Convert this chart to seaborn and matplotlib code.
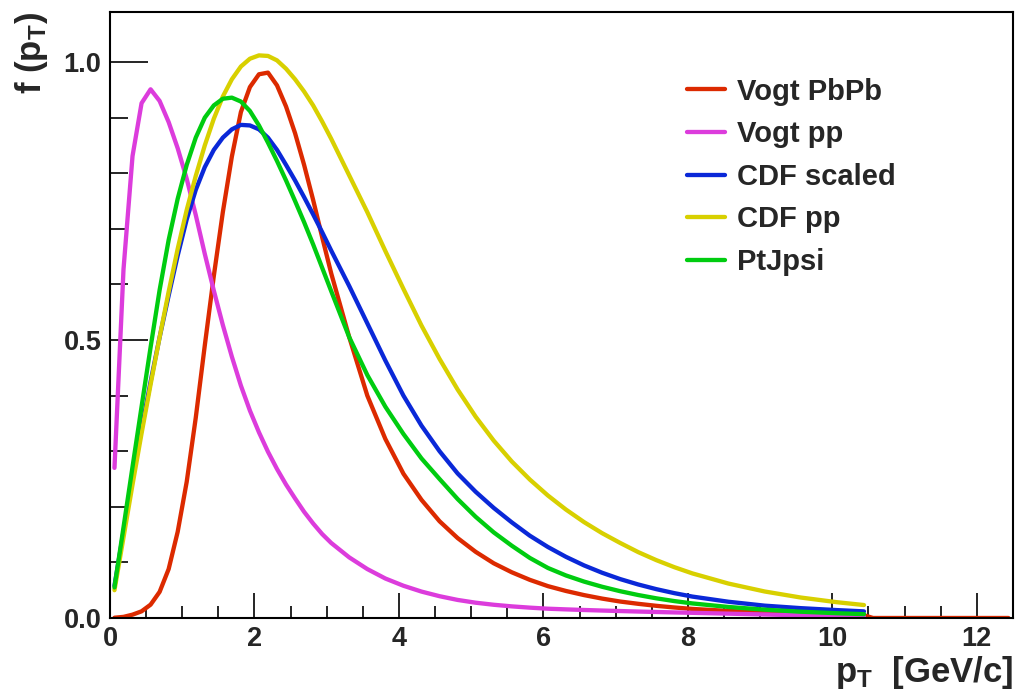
import numpy as np
import pandas as pd
import matplotlib
matplotlib.use("Agg")
import matplotlib.pyplot as plt
import seaborn as sns
from matplotlib.ticker import MultipleLocator, FormatStrFormatter
from matplotlib.lines import Line2D

# ---------------- data ----------------
pt = [0.0625, 0.1875, 0.3125, 0.4375, 0.5625, 0.6875, 0.8125, 0.9375,
      1.0625, 1.1875, 1.3125, 1.4375, 1.5625, 1.6875, 1.8125, 1.9375,
      2.0625, 2.1875, 2.3125, 2.4375, 2.5625, 2.6875, 2.8125, 2.9375,
      3.0625,
      3.3125, 3.5625, 3.8125, 4.0625, 4.3125, 4.5625, 4.8125, 5.0625,
      5.3125, 5.5625, 5.8125, 6.0625, 6.3125, 6.5625, 6.8125, 7.0625,
      7.3125, 7.5625, 7.8125,
      8.0625, 8.5625, 9.0625, 9.5625, 10.0625, 10.4375]
pt_tail = [10.5625, 11.0625, 11.5625, 12.0625, 12.4375]

vogt_pbpb = [0.0005, 0.002, 0.006, 0.012, 0.024, 0.047, 0.088, 0.155,
             0.245, 0.36, 0.49, 0.615, 0.73, 0.83, 0.91, 0.955,
             0.978, 0.981, 0.958, 0.92, 0.872, 0.815, 0.752, 0.685,
             0.62,
             0.505, 0.40, 0.322, 0.2595, 0.2125, 0.174, 0.1438, 0.119,
             0.0984, 0.0822, 0.0686, 0.0573, 0.0486, 0.0412, 0.0349, 0.0296,
             0.0255, 0.0219, 0.0189,
             0.0163, 0.0127, 0.0099, 0.0077, 0.006, 0.005]
vogt_pbpb_tail = [0.0, 0.0, 0.0, 0.0, 0.0]

vogt_pp = [0.27, 0.627, 0.831, 0.926, 0.951, 0.930, 0.892, 0.845,
           0.79, 0.725, 0.655, 0.589, 0.527, 0.47, 0.418, 0.373,
           0.334, 0.299, 0.268, 0.240, 0.215, 0.191, 0.170, 0.151,
           0.135,
           0.109, 0.088, 0.071, 0.058, 0.0475, 0.0392, 0.0325, 0.0275,
           0.0238, 0.0209, 0.0186, 0.0167, 0.0155, 0.0144, 0.0134, 0.0125,
           0.0116, 0.0108, 0.0100,
           0.0093, 0.0078, 0.0063, 0.0049, 0.0035, 0.0025]

cdf_scaled = [0.058, 0.155, 0.25, 0.34, 0.425, 0.505, 0.58, 0.652,
              0.717, 0.77, 0.811, 0.842, 0.864, 0.879, 0.887, 0.886,
              0.879, 0.864, 0.842, 0.815, 0.787, 0.757, 0.726, 0.694,
              0.661,
              0.597, 0.53, 0.463, 0.40, 0.346, 0.30, 0.26, 0.227,
              0.198, 0.172, 0.148, 0.1277, 0.110, 0.0946, 0.0814, 0.070,
              0.0603, 0.0519, 0.0447,
              0.0385, 0.0292, 0.0222, 0.0177, 0.0142, 0.0119]

cdf_pp = [0.05, 0.145, 0.24, 0.332, 0.42, 0.505, 0.587, 0.664,
          0.734, 0.795, 0.85, 0.898, 0.938, 0.969, 0.992, 1.006,
          1.012, 1.011, 1.003, 0.988, 0.969, 0.947, 0.922, 0.893,
          0.862,
          0.796, 0.73, 0.66, 0.592, 0.526, 0.466, 0.411, 0.362,
          0.319, 0.2815, 0.249, 0.2203, 0.195, 0.1725, 0.1526, 0.135,
          0.1185, 0.1041, 0.0914,
          0.0802, 0.0619, 0.0477, 0.0368, 0.0284, 0.0233]

ptjpsi = [0.055, 0.163, 0.272, 0.38, 0.487, 0.59, 0.68, 0.754,
          0.815, 0.864, 0.90, 0.922, 0.934, 0.936, 0.929, 0.912,
          0.886, 0.855, 0.822, 0.787, 0.75, 0.712, 0.672, 0.63,
          0.588,
          0.505, 0.437, 0.38, 0.331, 0.287, 0.25, 0.214, 0.182,
          0.154, 0.13, 0.108, 0.09, 0.0765, 0.0655, 0.0562, 0.0482,
          0.0413, 0.0354, 0.0304,
          0.0262, 0.0198, 0.015, 0.0113, 0.0086, 0.0069]

names = ["Vogt PbPb", "Vogt pp", "CDF scaled", "CDF pp", "PtJpsi"]
colors = ["#dc2a00", "#dc3cdc", "#0a28d8", "#d8d000", "#00cc10"]

# ---------------- long table ----------------
frames = [
    pd.DataFrame({"pt": pt + pt_tail, "f": vogt_pbpb + vogt_pbpb_tail, "curve": names[0]}),
    pd.DataFrame({"pt": pt, "f": vogt_pp, "curve": names[1]}),
    pd.DataFrame({"pt": pt, "f": cdf_scaled, "curve": names[2]}),
    pd.DataFrame({"pt": pt, "f": cdf_pp, "curve": names[3]}),
    pd.DataFrame({"pt": pt, "f": ptjpsi, "curve": names[4]}),
]
df = pd.concat(frames, ignore_index=True)

# ---------------- style ----------------
sns.set_theme(style="ticks")
plt.rcParams["font.family"] = ["Liberation Sans", "DejaVu Sans"]
plt.rcParams["font.weight"] = "bold"
plt.rcParams["mathtext.fontset"] = "custom"
plt.rcParams["mathtext.rm"] = "Liberation Sans:bold"
plt.rcParams["mathtext.bf"] = "Liberation Sans:bold"
plt.rcParams["mathtext.it"] = "Liberation Sans:bold"

fig = plt.figure(figsize=(10.2, 6.95), dpi=100)
ax = fig.add_axes([0.1078, 0.1108, 0.8853, 0.8719])

sns.lineplot(data=df, x="pt", y="f", hue="curve", hue_order=names,
             palette=colors, estimator=None, sort=True, linewidth=3.1,
             legend=False, ax=ax)

ax.set_xlim(0, 12.5)
ax.set_ylim(0, 1.09)

ax.xaxis.set_major_locator(MultipleLocator(2))
ax.xaxis.set_minor_locator(MultipleLocator(0.5))
ax.yaxis.set_major_locator(MultipleLocator(0.5))
ax.yaxis.set_minor_locator(MultipleLocator(0.1))
ax.yaxis.set_major_formatter(FormatStrFormatter("%.1f"))

ax.tick_params(axis="both", which="both", direction="in", top=False, right=False,
               width=1.2, color="black")
ax.tick_params(axis="x", which="major", length=18, labelsize=19.5, pad=6)
ax.tick_params(axis="x", which="minor", length=9)
ax.tick_params(axis="y", which="major", length=27, labelsize=19.5, pad=6)
ax.tick_params(axis="y", which="minor", length=13)
for lab in ax.get_xticklabels() + ax.get_yticklabels():
    lab.set_fontweight("bold")

for sp in ax.spines.values():
    sp.set_visible(True)
    sp.set_linewidth(1.5)
    sp.set_color("black")

ax.set_xlabel(r"p$_\mathrm{T}$  [GeV/c]", fontsize=25, fontweight="bold", loc="right")
ax.xaxis.set_label_coords(1.0, -0.06)
ax.xaxis.label.set_horizontalalignment("right")
ax.xaxis.label.set_verticalalignment("top")
ax.set_ylabel(r"f (p$_\mathrm{T}$)", fontsize=25, fontweight="bold", loc="top")
ax.yaxis.set_label_coords(-0.066, 1.0)
ax.yaxis.label.set_horizontalalignment("right")

handles = [Line2D([0], [0], color=c, lw=3.1) for c in colors]
ax.legend(handles, names, loc="upper left", bbox_to_anchor=(0.61, 0.935),
          frameon=False, handlelength=1.3, handletextpad=0.4,
          labelspacing=0.5, prop={"weight": "bold", "size": 21})

fig.savefig("out.png", dpi=100)
